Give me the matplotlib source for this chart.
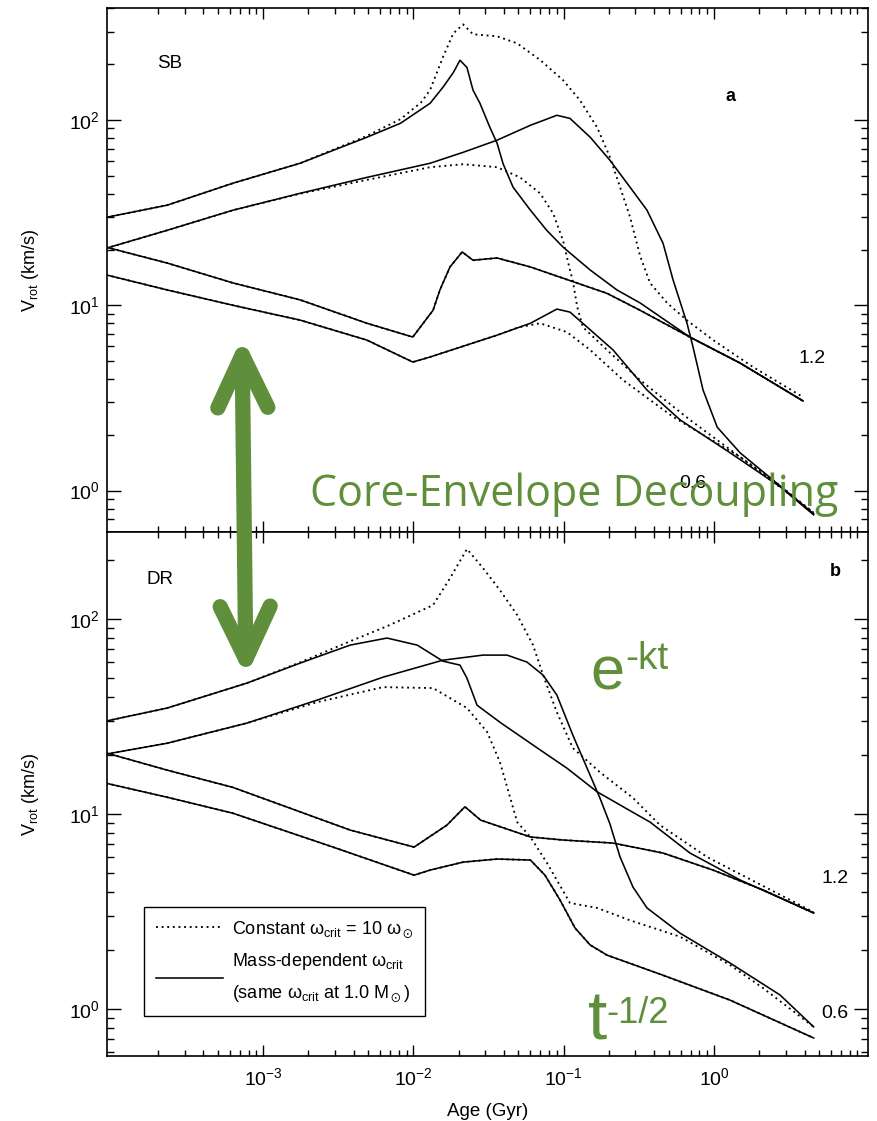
import matplotlib
matplotlib.use('Agg')
import matplotlib.pyplot as plt
from matplotlib.patches import FancyArrowPatch, ArrowStyle
from matplotlib.ticker import FixedLocator, LogLocator, NullFormatter

plt.rcParams['font.family'] = ['Liberation Sans', 'DejaVu Sans']
plt.rcParams['mathtext.fontset'] = 'custom'
plt.rcParams['mathtext.rm'] = 'Liberation Sans'
plt.rcParams['mathtext.it'] = 'Liberation Sans:italic'
plt.rcParams['mathtext.bf'] = 'Liberation Sans:bold'
plt.rcParams['mathtext.default'] = 'regular'

# ---- SB model (solid body rotation) ----
# 1.2 Msun, fast start
sb_a_mass_x = [9e-5, 2.3e-4, 6.3e-4, 1.76e-3, 4.9e-3, 8.2e-3, 0.0129, 0.0157, 0.0184, 0.0204, 0.0227,
               0.0249, 0.0277, 0.0323, 0.036, 0.0395, 0.046, 0.06, 0.077, 0.099, 0.15, 0.226, 0.322,
               0.69, 1.49, 3.9]
sb_a_mass_y = [29.8, 34.7, 45.6, 58.4, 80.7, 96, 123, 150, 180, 210, 192,
               145, 123, 91, 75, 58, 43.4, 32.6, 25.4, 20.6, 15.5, 12.1, 10.3,
               6.74, 4.88, 3.05]
sb_a_const_x = [9e-5, 2.3e-4, 6.3e-4, 1.76e-3, 4.9e-3, 8.2e-3, 0.0112, 0.0129, 0.0157, 0.0184, 0.0214,
                0.0249, 0.036, 0.049, 0.07, 0.099, 0.128, 0.167, 0.203, 0.237, 0.276, 0.322, 0.375,
                0.487, 0.66, 0.985, 1.82, 3.9]
sb_a_const_y = [29.8, 34.7, 45.6, 58.4, 82, 101, 124, 145, 218, 293, 328,
                290, 283, 259, 210, 164, 128, 91, 63, 43.4, 30, 18.5, 13.2,
                10.3, 8.3, 6.5, 4.64, 3.2]
# 1.2 Msun, slow start
sb_c_x = [9e-5, 2.3e-4, 6.3e-4, 1.76e-3, 4.9e-3, 0.0099, 0.0135, 0.015, 0.0175, 0.0211, 0.0249,
          0.036, 0.06, 0.099, 0.194, 0.322, 0.69, 1.49, 3.9]
sb_c_y = [20.6, 16.9, 13.2, 10.7, 8.0, 6.74, 9.4, 12.1, 16.1, 19.4, 17.5,
          18.0, 16.1, 14.0, 11.6, 9.4, 6.74, 4.88, 3.05]
# 0.6 Msun, fast start
sb_b_mass_x = [9e-5, 2.3e-4, 6.3e-4, 1.76e-3, 4.9e-3, 0.0129, 0.0214, 0.036, 0.06, 0.09, 0.11, 0.15,
               0.203, 0.276, 0.358, 0.458, 0.534, 0.661, 0.725, 0.845, 1.05, 1.49, 2.47, 4.6]
sb_b_mass_y = [20.3, 25.4, 32.6, 40.2, 49.0, 58.4, 66.9, 77.8, 93.6, 106, 102, 80.7,
               60.6, 43.4, 32.6, 21.6, 13.7, 8.0, 5.95, 3.49, 2.2, 1.6, 1.14, 0.75]
sb_b_const_x = [9e-5, 2.3e-4, 6.3e-4, 1.76e-3, 4.9e-3, 0.0129, 0.0214, 0.036, 0.0512, 0.0696, 0.0849,
                0.0989, 0.11, 0.115, 0.123, 0.134, 0.194, 0.322, 0.69, 1.49, 2.47, 4.6]
sb_b_const_y = [20.3, 25.4, 32.6, 40.0, 47.5, 55.6, 57.7, 55.6, 49.0, 40.2, 31.4,
                22.4, 15.5, 13.5, 9.78, 7.63, 5.74, 3.95, 2.41, 1.52, 1.14, 0.76]
# 0.6 Msun, slow start
sb_d_mass_x = [9e-5, 2.3e-4, 6.3e-4, 1.76e-3, 4.9e-3, 0.0099, 0.0129, 0.036, 0.06, 0.09, 0.11, 0.143,
               0.213, 0.358, 0.594, 1.28, 2.75, 4.6]
sb_d_mass_y = [14.6, 12.1, 10.0, 8.32, 6.49, 4.94, 5.26, 6.9, 8.0, 9.54, 9.19, 7.63,
               5.74, 3.49, 2.41, 1.6, 1.05, 0.74]
sb_d_const_x = [9e-5, 2.3e-4, 6.3e-4, 1.76e-3, 4.9e-3, 0.0099, 0.0129, 0.036, 0.05, 0.0696, 0.105,
                0.15, 0.248, 0.534, 1.49, 4.6]
sb_d_const_y = [14.6, 12.1, 10.0, 8.32, 6.49, 4.94, 5.26, 6.9, 7.6, 8.0, 7.17,
                5.74, 3.95, 2.5, 1.52, 0.76]

# ---- DR model (differential rotation) ----
dr_a_mass_x = [9e-5, 2.3e-4, 7.8e-4, 1.76e-3, 3.79e-3, 6.67e-3, 0.0106, 0.0157, 0.0204, 0.0227, 0.0265,
               0.0376, 0.0625, 0.105, 0.167, 0.289, 0.375, 0.692, 1.49, 4.6]
dr_a_mass_y = [30.0, 35.0, 47.0, 59.5, 73.6, 80.0, 73.6, 60.9, 58.1, 49.8, 36.2,
               29.6, 22.6, 17.2, 13.0, 10.2, 9.1, 6.31, 4.59, 3.11]
dr_a_const_x = [9e-5, 2.3e-4, 7.8e-4, 1.76e-3, 3.79e-3, 6.67e-3, 8.2e-3, 0.0135, 0.0175, 0.0227, 0.029,
                0.0376, 0.049, 0.0625, 0.0729, 0.09, 0.115, 0.174, 0.289, 0.437, 0.9, 4.6]
dr_a_const_y = [30.0, 35.0, 47.0, 60, 77, 92, 98.9, 118, 162, 229, 183,
                141, 105, 73.6, 51.6, 33.3, 21.8, 16.4, 12.1, 8.78, 6.02, 3.14]
dr_c_x = [9e-5, 2.3e-4, 6.3e-4, 3.79e-3, 0.0101, 0.0167, 0.022, 0.028, 0.06, 0.099, 0.213, 0.458,
          0.985, 2.12, 4.6]
dr_c_y = [20.6, 16.8, 13.7, 8.28, 6.77, 8.78, 10.9, 9.31, 7.63, 7.36, 7.1, 6.31,
          5.16, 4.08, 3.11]
dr_b_mass_x = [9e-5, 2.3e-4, 7.8e-4, 2.28e-3, 6.28e-3, 0.0157, 0.029, 0.042, 0.057, 0.0729, 0.09, 0.115,
               0.143, 0.174, 0.203, 0.237, 0.289, 0.358, 0.594, 1.28, 2.75, 4.6]
dr_b_mass_y = [20.3, 23.1, 29.3, 38.4, 50.4, 61.6, 65.4, 65.4, 60.2, 51.6, 40.8, 25.4,
               17.2, 12.1, 8.9, 6.02, 4.22, 3.3, 2.45, 1.72, 1.18, 0.81]
dr_b_const_x = [9e-5, 2.3e-4, 7.8e-4, 2.28e-3, 6.28e-3, 0.0135, 0.0227, 0.0309, 0.0376, 0.049, 0.06,
                0.0774, 0.11, 0.167, 0.276, 0.594, 1.28, 2.12, 4.6]
dr_b_const_y = [20.3, 23.1, 29.3, 37.5, 44.8, 44.3, 35.0, 26.4, 18.5, 9.1, 7.63,
                5.61, 3.5, 3.3, 2.85, 2.35, 1.68, 1.28, 0.81]
dr_d_x = [9e-5, 2.3e-4, 6.3e-4, 8.6e-4, 2.92e-3, 0.0101, 0.0129, 0.0214, 0.036, 0.06, 0.075, 0.0945,
          0.119, 0.15, 0.194, 0.458, 1.28, 4.6]
dr_d_y = [14.4, 12.2, 10.1, 9.31, 6.77, 4.86, 5.16, 5.67, 5.88, 5.81, 4.86, 3.62,
          2.6, 2.13, 1.89, 1.49, 1.11, 0.71]

x_major = [1e-3, 1e-2, 1e-1, 1e0]
green = '#5f8f3b'
solid = dict(color='black', lw=1.15, ls='-')
dotted = dict(color='black', lw=1.35, ls=(0, (1, 2)))

W, H = 877, 1121
fig = plt.figure(figsize=(W / 100, H / 100), dpi=100)
ax1 = fig.add_axes([107 / W, 1 - 532 / H, 761 / W, 524 / H])
ax2 = fig.add_axes([107 / W, 1 - 1056 / H, 761 / W, 524 / H])

# top panel
ax1.plot(sb_a_const_x, sb_a_const_y, **dotted)
ax1.plot(sb_a_mass_x, sb_a_mass_y, **solid)
ax1.plot(sb_c_x, sb_c_y, **dotted)
ax1.plot(sb_c_x, sb_c_y, **solid)
ax1.plot(sb_b_const_x, sb_b_const_y, **dotted)
ax1.plot(sb_b_mass_x, sb_b_mass_y, **solid)
ax1.plot(sb_d_const_x, sb_d_const_y, **dotted)
ax1.plot(sb_d_mass_x, sb_d_mass_y, **solid)

# bottom panel
ax2.plot(dr_a_const_x, dr_a_const_y, **dotted)
ax2.plot(dr_a_mass_x, dr_a_mass_y, **solid)
ax2.plot(dr_c_x, dr_c_y, **dotted)
ax2.plot(dr_c_x, dr_c_y, **solid)
ax2.plot(dr_b_const_x, dr_b_const_y, **dotted)
ax2.plot(dr_b_mass_x, dr_b_mass_y, **solid)
ax2.plot(dr_d_x, dr_d_y, **dotted)
ax2.plot(dr_d_x, dr_d_y, **solid)

for ax, ylim in ((ax1, (0.598, 402)), (ax2, (0.574, 280))):
    ax.set_xscale('log')
    ax.set_yscale('log')
    ax.set_xlim(9.14e-5, 10.58)
    ax.set_ylim(*ylim)
    ax.xaxis.set_major_locator(FixedLocator(x_major))
    ax.xaxis.set_minor_locator(LogLocator(base=10, subs=range(2, 10), numticks=30))
    ax.xaxis.set_minor_formatter(NullFormatter())
    ax.yaxis.set_major_locator(LogLocator(base=10, numticks=10))
    ax.yaxis.set_minor_locator(LogLocator(base=10, subs=range(2, 10), numticks=30))
    ax.yaxis.set_minor_formatter(NullFormatter())
    ax.tick_params(which='both', direction='in', top=True, right=True, width=1.0, labelsize=14)
    ax.tick_params(axis='y', which='major', length=10, pad=5)
    ax.tick_params(axis='y', which='minor', length=5)
    ax.tick_params(axis='x', which='major', length=8, pad=8)
    ax.tick_params(axis='x', which='minor', length=4.5)
    for s in ax.spines.values():
        s.set_linewidth(1.2)
    ax.set_ylabel(r'V$_{rot}$ (km/s)', fontsize=13)
    ax.yaxis.label.set_verticalalignment('center')
    ax.yaxis.set_label_coords(-0.101, 0.5)

ax1.tick_params(axis='x', labelbottom=False)
ax2.set_xlabel('Age (Gyr)', fontsize=13.5, labelpad=10)

ax1.text(0.0828, 0.895, 'SB', transform=ax1.transAxes, ha='center', va='center', fontsize=13.5)
ax1.text(0.819, 0.8305, 'a', transform=ax1.transAxes, ha='center', va='center', fontsize=13,
         fontweight='bold')
ax1.text(0.926, 0.332, '1.2', transform=ax1.transAxes, ha='center', va='center', fontsize=14)
ax1.text(0.770, 0.0935, '0.6', transform=ax1.transAxes, ha='center', va='center', fontsize=14)
ax2.text(0.0697, 0.910, 'DR', transform=ax2.transAxes, ha='center', va='center', fontsize=13.5)
ax2.text(0.957, 0.924, 'b', transform=ax2.transAxes, ha='center', va='center', fontsize=13,
         fontweight='bold')
ax2.text(0.957, 0.338, '1.2', transform=ax2.transAxes, ha='center', va='center', fontsize=14)
ax2.text(0.957, 0.082, '0.6', transform=ax2.transAxes, ha='center', va='center', fontsize=14)

# legend for the two criteria
h_const, = ax2.plot([], [], **dotted)
h_mass, = ax2.plot([], [], **solid)
leg = ax2.legend([h_const, h_mass],
                 [r'Constant $\omega_{crit}$ = 10 $\omega_\odot$',
                  'Mass-dependent $\\omega_{crit}$\n(same $\\omega_{crit}$ at 1.0 M$_\\odot$)'],
                 loc='lower left', bbox_to_anchor=(0.0486, 0.0763), borderaxespad=0,
                 fontsize=13, fancybox=False, edgecolor='black', framealpha=1,
                 handlelength=3.7, handletextpad=0.5, borderpad=0.65, labelspacing=0.62)
leg.get_frame().set_linewidth(1.0)
for t in leg.get_texts():
    t.set_linespacing(1.8)

# overlay annotations
arrow = FancyArrowPatch((242 / W, 1 - 337 / H), (246 / W, 1 - 677 / H), transform=fig.transFigure,
                        arrowstyle=ArrowStyle('<->', head_length=38, head_width=18),
                        mutation_scale=1, lw=11, color=green, capstyle='round', joinstyle='round',
                        shrinkA=0, shrinkB=0, zorder=10)
fig.add_artist(arrow)
fig.text(310 / W, 1 - 506 / H, 'Core-Envelope Decoupling', color=green, fontsize=31,
         family='Open Sans', va='baseline', ha='left', zorder=10)
fig.text(590 / W, 1 - 690 / H, 'e', color=green, fontsize=44, va='baseline', ha='left', zorder=10)
fig.text(625 / W, 1 - 669 / H, '-kt', color=green, fontsize=28, va='baseline', ha='left', zorder=10)
fig.text(588 / W, 1 - 1040 / H, 't', color=green, fontsize=50, va='baseline', ha='left', zorder=10)
fig.text(606 / W, 1 - 1023 / H, '-1/2', color=green, fontsize=26, va='baseline', ha='left', zorder=10)

fig.savefig('out.png', dpi=100)
